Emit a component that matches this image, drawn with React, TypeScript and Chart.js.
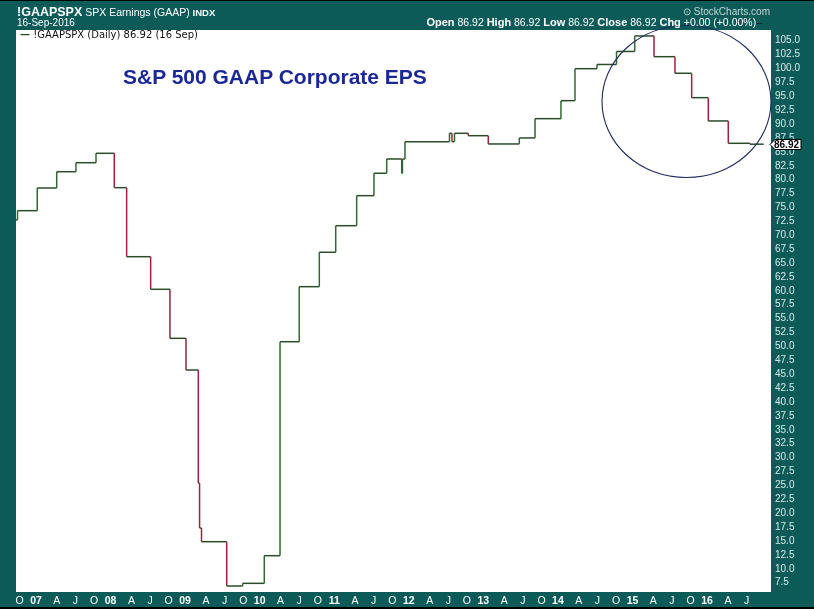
import React, { useEffect, useRef } from "react";
import { Chart, registerables } from "chart.js";

Chart.register(...registerables);

// ---- data (decimal years, EPS values) ----
const startDate = 2006.732;
const startValue = 73.29;
const stepDates = [
  2006.752, 2007.017, 2007.278, 2007.536, 2007.805, 2008.05, 2008.216, 2008.538, 2008.797, 2009.012,
  2009.177, 2009.194, 2009.22, 2009.558, 2009.772, 2010.062, 2010.273, 2010.531, 2010.8, 2011.02,
  2011.301, 2011.533, 2011.704, 2011.905, 2011.915, 2011.949, 2012.546, 2012.579, 2012.613, 2012.798,
  2013.066, 2013.482, 2013.693, 2014.041, 2014.229, 2014.524, 2014.786, 2015.03, 2015.289, 2015.57,
  2015.794, 2016.017, 2016.285, 2016.576,
];
const stepValues = [
  74.96, 79.04, 81.97, 83.59, 85.28, 79.1, 66.68, 60.82, 52.0, 46.3,
  25.97, 17.88, 15.42, 7.45, 7.93, 12.9, 51.39, 61.29, 67.48, 72.26,
  77.66, 81.69, 84.26, 81.69, 84.26, 87.37, 88.88, 87.37, 88.88, 88.45,
  86.96, 88.04, 91.51, 94.75, 100.5, 101.26, 103.6, 106.39, 102.66, 99.68,
  95.29, 91.1, 87.08, 86.92,
];
const endDate = 2016.76;
const lastValue = 86.92;

// quarterly x tick labels starting at Oct 2006
const xTickStart = 2006.75;
const xTickLabels = [
  "O", "07", "A", "J", "O", "08", "A", "J", "O", "09", "A", "J", "O", "10", "A", "J",
  "O", "11", "A", "J", "O", "12", "A", "J", "O", "13", "A", "J", "O", "14", "A", "J",
  "O", "15", "A", "J", "O", "16", "A", "J",
];
const yTickMin = 7.5;
const yTickMax = 105;
const yTickStep = 2.5;

// highlight ellipse (data space)
const circleCenter = { x: 2015.7245, y: 94.6 };
const circleRadius = { x: 1.133, y: 13.67 };

const TEAL = "#0d5b59";
const FLAT = "#294d29";
const UP = "#2f6a30";
const DOWN = "#a3213f";

export default function App() {
  const ref = useRef<HTMLCanvasElement | null>(null);

  useEffect(() => {
    document.body.style.margin = "0";
    const canvas = ref.current;
    if (!canvas) return;

    const points: { x: number; y: number }[] = [{ x: startDate, y: startValue }];
    stepDates.forEach((d, i) => {
      const prev = i === 0 ? startValue : stepValues[i - 1];
      points.push({ x: d, y: prev });
      points.push({ x: d, y: stepValues[i] });
    });
    points.push({ x: endDate, y: stepValues[stepValues.length - 1] });

    const yTicks: number[] = [];
    for (let v = yTickMin; v <= yTickMax + 1e-9; v += yTickStep) yTicks.push(Math.round(v * 10) / 10);

    const bgPlugin = {
      id: "bg",
      beforeDraw(chart: any) {
        const { ctx, chartArea, width, height } = chart;
        ctx.save();
        ctx.fillStyle = TEAL;
        ctx.fillRect(0, 0, width, height);
        ctx.fillStyle = "#ffffff";
        ctx.fillRect(chartArea.left, chartArea.top, chartArea.right - chartArea.left, chartArea.bottom - chartArea.top);
        ctx.fillStyle = "#000000";
        ctx.fillRect(0, 0, width, 1);
        ctx.fillRect(0, height - 2, width, 2);
        ctx.restore();
      },
    };

    const overlayPlugin = {
      id: "overlay",
      afterDraw(chart: any) {
        const { ctx } = chart;
        const xs = chart.scales.x;
        const ys = chart.scales.y;
        // ellipse
        const cx = xs.getPixelForValue(circleCenter.x);
        const cy = ys.getPixelForValue(circleCenter.y);
        const rx = xs.getPixelForValue(circleCenter.x + circleRadius.x) - cx;
        const ry = cy - ys.getPixelForValue(circleCenter.y + circleRadius.y);
        ctx.save();
        ctx.beginPath();
        ctx.ellipse(cx, cy, rx, ry, 0, 0, Math.PI * 2);
        ctx.strokeStyle = "#1c2a5c";
        ctx.lineWidth = 1.1;
        ctx.stroke();
        // last value tag
        const ty = Math.round(ys.getPixelForValue(lastValue)) + 0.5;
        const left = chart.chartArea.right;
        ctx.beginPath();
        ctx.moveTo(left - 1, ty);
        ctx.lineTo(left + 4, ty - 5);
        ctx.lineTo(left + 30, ty - 5);
        ctx.lineTo(left + 30, ty + 5);
        ctx.lineTo(left + 4, ty + 5);
        ctx.closePath();
        ctx.fillStyle = "#ffffff";
        ctx.fill();
        ctx.strokeStyle = "#000000";
        ctx.lineWidth = 1;
        ctx.stroke();
        ctx.fillStyle = "#000000";
        ctx.font = "bold 10px 'Liberation Sans'";
        ctx.textAlign = "left";
        ctx.textBaseline = "middle";
        ctx.fillText(lastValue.toFixed(2), left + 3, ty + 0.5);
        ctx.restore();
      },
    };

    const chart = new Chart(canvas, {
      type: "line",
      data: {
        datasets: [
          {
            data: points,
            borderWidth: 1.5,
            pointRadius: 0,
            tension: 0,
            fill: false,
            segment: {
              borderColor: (c: any) =>
                c.p1.parsed.y < c.p0.parsed.y ? DOWN : c.p1.parsed.y > c.p0.parsed.y ? UP : FLAT,
            },
          },
        ],
      },
      options: {
        responsive: false,
        animation: false,
        layout: { padding: { left: 16, top: 30, right: 0, bottom: 0 } },
        plugins: { legend: { display: false }, tooltip: { enabled: false } },
        scales: {
          x: {
            type: "linear",
            min: 2006.732,
            max: 2016.858,
            grid: { display: false, drawTicks: false },
            border: { display: false },
            afterBuildTicks: (s: any) => {
              s.ticks = xTickLabels.map((l, i) => ({
                value: xTickStart + i * 0.25 + (/\d/.test(l) ? 0 : 0.03),
              }));
            },
            afterFit: (s: any) => {
              s.height = 17;
            },
            ticks: {
              autoSkip: false,
              maxRotation: 0,
              padding: 3,
              color: "#ffffff",
              font: (c: any) => ({
                family: "'Liberation Sans', Arial, sans-serif",
                size: /\d/.test(xTickLabels[c.index] || "") ? 10.5 : 10.5,
                weight: /\d/.test(xTickLabels[c.index] || "") ? "bold" : "normal",
              }),
              callback: (_v: any, i: number) => xTickLabels[i],
            },
          },
          y: {
            type: "linear",
            position: "right",
            min: 6.37,
            max: 107.46,
            grid: { display: false, drawTicks: false },
            border: { display: false },
            afterBuildTicks: (s: any) => {
              s.ticks = yTicks.map((v) => ({ value: v }));
            },
            afterFit: (s: any) => {
              s.width = 43;
            },
            ticks: {
              autoSkip: false,
              padding: 4,
              labelOffset: -3,
              color: "#d6ebea",
              font: { family: "'Liberation Sans', Arial, sans-serif", size: 10 },
              callback: (v: any) => Number(v).toFixed(1),
            },
          },
        },
      },
      plugins: [bgPlugin, overlayPlugin],
    });

    return () => chart.destroy();
  }, []);

  const abs: React.CSSProperties = { position: "absolute", whiteSpace: "nowrap", lineHeight: 1 };
  const sans = "'Liberation Sans', Arial, sans-serif";

  return (
    <div style={{ position: "relative", width: 814, height: 609, overflow: "hidden" }}>
      <canvas ref={ref} width={814} height={609} style={{ display: "block" }} />
      <div style={{ ...abs, left: 17, top: 5.7, color: "#fff", fontFamily: sans, fontSize: 12.5 }}>
        <span style={{ fontSize: 12.5, fontWeight: "bold" }}>!GAAPSPX</span>
        <span style={{ fontSize: 10.5 }}> SPX Earnings (GAAP) </span>
        <span style={{ fontSize: 9.5, fontWeight: "bold" }}>INDX</span>
      </div>
      <div style={{ ...abs, left: 17, top: 18.3, color: "#fff", fontFamily: sans, fontSize: 10 }}>16-Sep-2016</div>
      <div style={{ ...abs, right: 44, top: 6.5, color: "#c6d8d7", fontFamily: sans, fontSize: 10 }}>
        ⊙ StockCharts.com
      </div>
      <div style={{ ...abs, right: 52, top: 17.4, color: "#fff", fontFamily: sans, fontSize: 11 }}>
        <b style={{ fontSize: 11 }}>Open</b>
        <span style={{ fontSize: 10.5 }}> 86.92 </span>
        <b style={{ fontSize: 11 }}>High</b>
        <span style={{ fontSize: 10.5 }}> 86.92 </span>
        <b style={{ fontSize: 11 }}>Low</b>
        <span style={{ fontSize: 10.5 }}> 86.92 </span>
        <b style={{ fontSize: 11 }}>Close</b>
        <span style={{ fontSize: 10.5 }}> 86.92 </span>
        <b style={{ fontSize: 11 }}>Chg</b>
        <span style={{ fontSize: 10.5 }}> +0.00 (+0.00%)</span>
        <span style={{ color: "#1a1a1a", fontSize: 10.5 }}>–</span>
      </div>
      <div style={{ ...abs, left: 20, top: 29.5, color: "#111", fontFamily: "'DejaVu Sans', Verdana, sans-serif", fontSize: 10 }}>
        <span style={{ color: FLAT, fontWeight: "bold" }}>—</span> !GAAPSPX (Daily) 86.92 (16 Sep)
      </div>
      <div style={{ ...abs, left: 123, top: 66, color: "#1a2796", fontFamily: sans, fontSize: 21, fontWeight: "bold" }}>
        S&amp;P 500 GAAP Corporate EPS
      </div>
    </div>
  );
}
